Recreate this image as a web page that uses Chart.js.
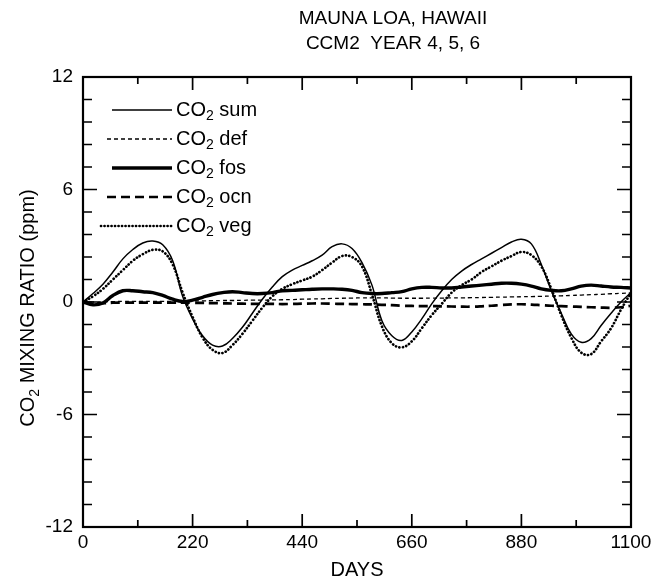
<!DOCTYPE html>
<html><head><meta charset="utf-8">
<script src="https://cdn.jsdelivr.net/npm/chart.js@4.4.0/dist/chart.umd.min.js"></script>
<style>html,body{margin:0;padding:0;background:#fff;}#wrap{width:662px;height:585px;position:relative;}</style>
</head><body><div id="wrap"><canvas id="c" width="662" height="585"></canvas></div>
<script>
const titleLines = ['MAUNA LOA, HAWAII', 'CCM2  YEAR 4, 5, 6'];
const xAxisTitle = 'DAYS';
const yAxisTitle = ['CO', '2', ' MIXING RATIO (ppm)'];
const xTickLabels = [0, 220, 440, 660, 880, 1100];
const yTickLabels = [-12, -6, 0, 6, 12];
const seriesNames = ['sum', 'def', 'fos', 'ocn', 'veg'];

const days = [0,20,40,60,80,100,120,140,160,180,200,220,240,260,280,300,320,340,360,380,400,420,440,460,480,500,520,540,560,580,600,620,640,660,680,700,720,740,760,780,800,820,840,860,880,900,920,940,960,980,1000,1020,1040,1060,1080,1100];

const co2Sum = [0,0.45,0.95,1.6,2.3,2.8,3.15,3.25,3.05,2.2,0.3,-0.9,-1.8,-2.3,-2.35,-1.95,-1.35,-0.6,0.15,0.8,1.35,1.7,1.95,2.2,2.5,2.95,3.1,2.85,2.1,0.9,-1.0,-1.8,-2.05,-1.6,-0.9,-0.1,0.6,1.2,1.65,2.0,2.3,2.6,2.9,3.2,3.35,3.1,2.0,0.6,-0.6,-1.7,-2.15,-1.95,-1.25,-0.6,0.0,0.5];

const co2Def = [0,0,0.01,0.02,0.03,0.03,0.03,0.03,0.03,0.03,0.04,0.05,0.06,0.07,0.08,0.08,0.09,0.1,0.1,0.11,0.12,0.13,0.15,0.16,0.17,0.19,0.2,0.21,0.22,0.22,0.22,0.21,0.2,0.2,0.2,0.21,0.21,0.22,0.22,0.23,0.24,0.25,0.26,0.27,0.28,0.29,0.3,0.32,0.33,0.35,0.37,0.39,0.41,0.44,0.46,0.48];

const co2Fos = [0,-0.15,-0.05,0.35,0.6,0.6,0.55,0.5,0.35,0.15,0.03,0.1,0.25,0.4,0.5,0.55,0.5,0.45,0.45,0.5,0.6,0.62,0.65,0.68,0.7,0.7,0.68,0.62,0.5,0.45,0.45,0.5,0.55,0.7,0.78,0.78,0.75,0.75,0.8,0.85,0.9,0.95,1.0,1.0,0.95,0.85,0.7,0.62,0.6,0.7,0.85,0.9,0.85,0.8,0.78,0.75];

const co2Ocn = [0,-0.05,-0.06,-0.04,-0.03,-0.03,-0.03,-0.03,-0.03,-0.03,-0.03,-0.04,-0.05,-0.06,-0.07,-0.08,-0.09,-0.1,-0.1,-0.1,-0.11,-0.1,-0.09,-0.08,-0.08,-0.09,-0.1,-0.11,-0.12,-0.13,-0.15,-0.17,-0.2,-0.21,-0.22,-0.22,-0.23,-0.24,-0.25,-0.25,-0.23,-0.2,-0.16,-0.13,-0.12,-0.14,-0.17,-0.2,-0.22,-0.24,-0.26,-0.28,-0.3,-0.31,-0.28,-0.2];

const co2Veg = [0,0.3,0.7,1.2,1.7,2.2,2.55,2.78,2.7,2.0,0.5,-0.8,-1.9,-2.55,-2.72,-2.3,-1.7,-1.0,-0.3,0.3,0.7,0.95,1.15,1.35,1.7,2.1,2.45,2.4,1.9,0.4,-1.3,-2.2,-2.42,-2.1,-1.4,-0.7,-0.1,0.5,0.9,1.2,1.6,1.9,2.2,2.45,2.67,2.5,1.9,0.7,-0.7,-1.9,-2.7,-2.78,-2.1,-1.4,-0.4,0.5];

const FONT = '"Liberation Sans", Arial, Helvetica, sans-serif';
const pts = vals => days.map((d, i) => ({x: d, y: vals[i]}));

const styles = [
  {borderWidth: 1.5},
  {borderWidth: 1.3, borderDash: [4, 3]},
  {borderWidth: 3.4},
  {borderWidth: 2.7, borderDash: [9, 5]},
  {borderWidth: 2.7, borderDash: [0.1, 3.4], borderCapStyle: 'round'}
];
const seriesVals = [co2Sum, co2Def, co2Fos, co2Ocn, co2Veg];

const datasets = seriesNames.map((n, i) => Object.assign({
  label: n, data: pts(seriesVals[i]), borderColor: '#000', backgroundColor: '#000',
  pointRadius: 0, fill: false, tension: 0.4, borderCapStyle: 'butt'
}, styles[i]));

const decor = {
  id: 'decor',
  afterDraw(chart) {
    const {ctx, chartArea: a, scales: {x, y}} = chart;
    ctx.save();
    ctx.strokeStyle = '#000';
    ctx.lineWidth = 2.2;
    ctx.setLineDash([]);
    ctx.strokeRect(a.left, a.top, a.right - a.left, a.bottom - a.top);
    ctx.lineWidth = 1.7;
    for (let k = 0; k <= 10; k++) {
      const v = k * 110;
      const px = x.getPixelForValue(v);
      const L = (k % 2 === 0) ? 13 : 7;
      ctx.beginPath();
      ctx.moveTo(px, a.bottom); ctx.lineTo(px, a.bottom - L);
      ctx.moveTo(px, a.top); ctx.lineTo(px, a.top + L);
      ctx.stroke();
    }
    for (let k = 0; k <= 20; k++) {
      const v = -12 + k * 1.2;
      const py = y.getPixelForValue(v);
      const L = (k % 5 === 0) ? 14 : 9;
      ctx.beginPath();
      ctx.moveTo(a.left, py); ctx.lineTo(a.left + L, py);
      ctx.moveTo(a.right, py); ctx.lineTo(a.right - L, py);
      ctx.stroke();
    }
    // title
    ctx.fillStyle = '#000';
    ctx.font = '19px ' + FONT;
    ctx.textAlign = 'center';
    ctx.textBaseline = 'middle';
    ctx.fillText(titleLines[0], 393, 19);
    ctx.fillText(titleLines[1], 393, 44);
    // legend
    const rows = [110, 139, 168, 197, 226];
    const lx0 = [112, 107, 112, 107, 101], lx1 = 172;
    chart.data.datasets.forEach((ds, i) => {
      const yy = rows[i];
      ctx.save();
      ctx.lineWidth = ds.borderWidth;
      ctx.setLineDash(ds.borderDash || []);
      ctx.lineCap = ds.borderCapStyle || 'butt';
      ctx.beginPath(); ctx.moveTo(lx0[i], yy); ctx.lineTo(lx1, yy); ctx.stroke();
      ctx.restore();
      ctx.textAlign = 'left';
      ctx.font = '20px ' + FONT;
      let tx = 176;
      ctx.fillText('CO', tx, yy);
      tx += ctx.measureText('CO').width;
      ctx.font = '14px ' + FONT;
      ctx.fillText('2', tx, yy + 6);
      tx += ctx.measureText('2').width;
      ctx.font = '20px ' + FONT;
      ctx.fillText(' ' + ds.label, tx, yy);
    });
    // y-axis title
    ctx.save();
    ctx.translate(28, 308);
    ctx.rotate(-Math.PI / 2);
    ctx.font = '20px ' + FONT;
    const w0 = ctx.measureText(yAxisTitle[0]).width;
    const w2 = ctx.measureText(yAxisTitle[2]).width;
    ctx.font = '14px ' + FONT;
    const w1 = ctx.measureText(yAxisTitle[1]).width;
    let tx = -(w0 + w1 + w2) / 2;
    ctx.textAlign = 'left';
    ctx.font = '20px ' + FONT;
    ctx.fillText(yAxisTitle[0], tx, 0); tx += w0;
    ctx.font = '14px ' + FONT;
    ctx.fillText(yAxisTitle[1], tx, 7); tx += w1;
    ctx.font = '20px ' + FONT;
    ctx.fillText(yAxisTitle[2], tx, 0);
    ctx.restore();
    ctx.restore();
  }
};

new Chart(document.getElementById('c'), {
  type: 'line',
  data: {datasets},
  options: {
    responsive: false, animation: false, devicePixelRatio: 1,
    layout: {padding: {top: 77, right: 31, left: 0, bottom: 0}},
    plugins: {legend: {display: false}, title: {display: false}, tooltip: {enabled: false}},
    scales: {
      x: {
        type: 'linear', min: 0, max: 1100,
        afterBuildTicks: s => { s.ticks = xTickLabels.map(v => ({value: v})); },
        ticks: {font: {family: FONT, size: 19}, color: '#000', padding: 4, maxRotation: 0, autoSkip: false,
                callback: v => String(v)},
        grid: {display: false, drawTicks: false},
        border: {display: false},
        title: {display: true, text: xAxisTitle, color: '#000', font: {family: FONT, size: 20}, padding: {top: 0, bottom: 3}},
        afterFit: s => { s.height = 58; }
      },
      y: {
        type: 'linear', min: -12, max: 12,
        afterBuildTicks: s => { s.ticks = yTickLabels.map(v => ({value: v})); },
        ticks: {font: {family: FONT, size: 19}, color: '#000', padding: 10, autoSkip: false,
                callback: v => String(v)},
        grid: {display: false, drawTicks: false},
        border: {display: false},
        afterFit: s => { s.width = 83; }
      }
    }
  },
  plugins: [decor]
});
</script></body></html>
